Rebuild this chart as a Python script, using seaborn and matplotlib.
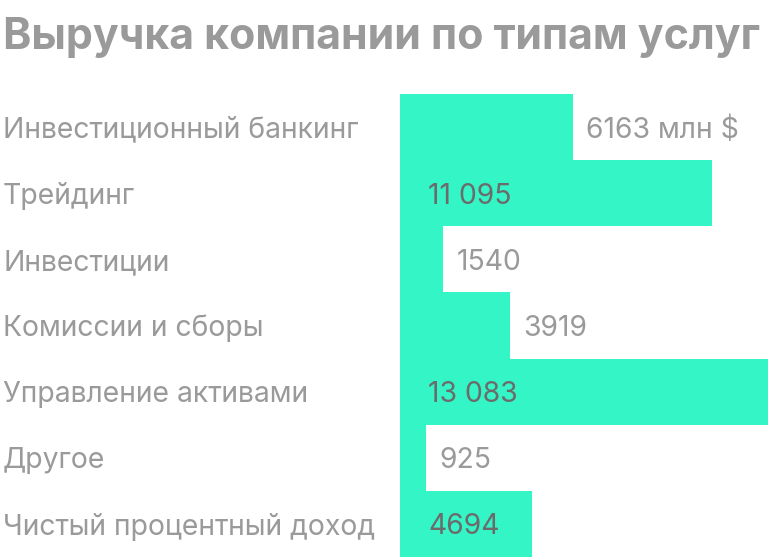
import matplotlib
matplotlib.use('Agg')
import matplotlib.pyplot as plt
import matplotlib.transforms as mtransforms
import seaborn as sns
import pandas as pd

categories = ['Инвестиционный банкинг', 'Трейдинг', 'Инвестиции',
              'Комиссии и сборы', 'Управление активами', 'Другое',
              'Чистый процентный доход']
values = [6163, 11095, 1540, 3919, 13083, 925, 4694]
labels = ['6163 млн $', '11 095', '1540', '3919', '13 083', '925', '4694']

df = pd.DataFrame({'cat': categories, 'val': values})

sns.set_theme(style='white')
plt.rcParams['font.family'] = ['Inter', 'DejaVu Sans']

fig = plt.figure(figsize=(7.68, 5.59), dpi=100)
ax = fig.add_axes([400 / 768, 2 / 559, 368 / 768, 463 / 559])

sns.barplot(data=df, x='val', y='cat', color='#33f5c5', saturation=1,
            width=1.0, ax=ax, linewidth=0)

ax.set_xlim(0, max(values))
ax.set_ylim(len(values) - 0.5, -0.5)
ax.set_axis_off()

px = max(values) / 368.0  # data units per pixel
trans = mtransforms.blended_transform_factory(fig.transFigure, ax.transData)
for i, (cat, v, lab) in enumerate(zip(categories, values, labels)):
    ax.text(3 / 768, i, cat, transform=trans, ha='left', va='center_baseline',
            fontsize=20.4, color='#9a9a9a')
    if v > 4500 and 'млн' not in lab:
        ax.text(28 * px, i, lab, ha='left', va='center_baseline', fontsize=20.4,
                color='#6b6b6b')
    else:
        ax.text(v + 13 * px, i, lab, ha='left', va='center_baseline', fontsize=20.4,
                color='#9a9a9a')

fig.text(3 / 768, 1 - 33 / 559, 'Выручка компании по типам услуг',
         ha='left', va='center_baseline', fontsize=30.9, fontweight='bold',
         color='#9a9a9a')

fig.savefig('out.png', dpi=100)
